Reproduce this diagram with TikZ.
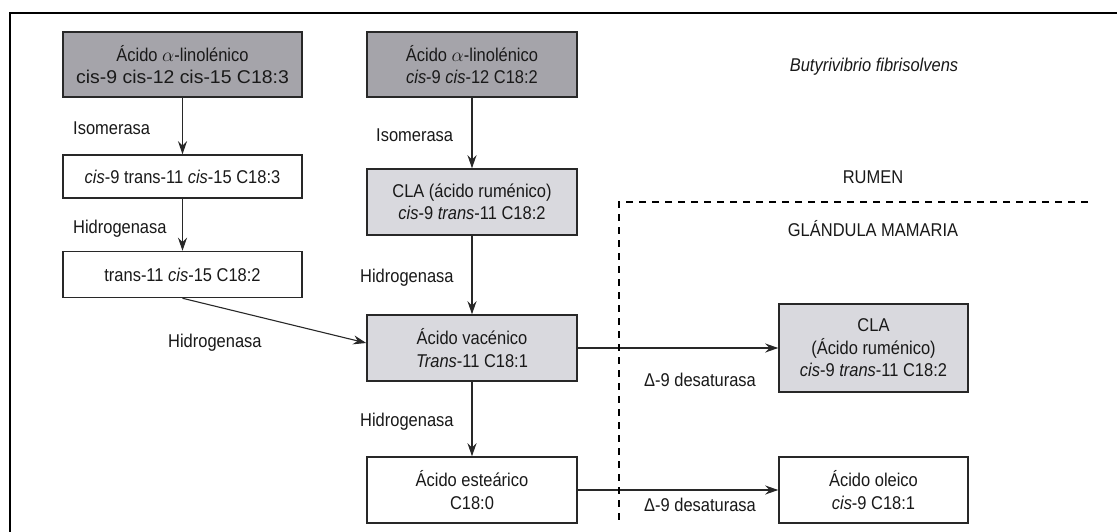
\documentclass[tikz,border=0pt]{standalone}
\usepackage{fontspec}
\setmainfont{Liberation Sans}[FakeStretch=0.89]
\usetikzlibrary{arrows.meta,calc}
\definecolor{boxdark}{RGB}{165,164,170}
\definecolor{boxlight}{RGB}{217,217,222}
\definecolor{inkline}{RGB}{40,40,40}
\definecolor{inktext}{RGB}{25,25,25}
\newcommand{\alphasym}{\scalebox{1.12}{$\alpha$}}
\tikzset{
  txt/.style={font=\fontsize{18.5}{22.5}\selectfont, text=inktext},
  box/.style={txt, draw=inkline, line width=1.5pt, align=center, inner sep=0pt},
  darkbox/.style={box, fill=boxdark},
  lightbox/.style={box, fill=boxlight},
  whitebox/.style={box, fill=white},
  lbl/.style={txt, inner sep=0pt, anchor=base west},
  clbl/.style={txt, inner sep=0pt, anchor=base},
  conn/.style={draw=inkline, line width=1.1pt, -{Stealth[length=13pt,width=9pt]}},
  frameline/.style={draw=black, line width=2.4pt},
  zoneline/.style={draw=black, line width=2.2pt, dash pattern=on 7pt off 6pt}
}
\begin{document}
\begin{tikzpicture}[x=1pt,y=-1pt]
\useasboundingbox (0,0) rectangle (1117,531);
\fill[white] (0,0) rectangle (1117,531);

% outer frame (cropped at right and bottom)
\coordinate (fbl) at (10,535);
\coordinate (ftl) at (10,13);
\coordinate (ftr) at (1120,13);
\draw[frameline] (fbl) -- (ftl) -- (ftr);

% boxes
\node[darkbox, minimum width=239pt, minimum height=65pt] (A1) at (182.5,64.5)
  {Ácido \alphasym-linolénico\\\scalebox{1.18}[1]{cis-9 cis-12 cis-15 C18:3}};
\node[darkbox, minimum width=210pt, minimum height=65pt] (A2) at (472,64.5)
  {Ácido \alphasym-linolénico\\\textit{cis}-9 \textit{cis}-12 C18:2};
\node[whitebox, minimum width=239pt, minimum height=43pt] (B1) at (182.5,176.5)
  {\textit{cis}-9 trans-11 \textit{cis}-15 C18:3};
\node[lightbox, minimum width=210pt, minimum height=66pt] (B2) at (472,202)
  {CLA (ácido ruménico)\\\textit{cis}-9 \textit{trans}-11 C18:2};
\node[whitebox, minimum width=239pt, minimum height=46pt] (C1) at (182.5,274.5)
  {trans-11 \textit{cis}-15 C18:2};
\node[lightbox, minimum width=210pt, minimum height=66pt] (D) at (472,348)
  {Ácido vacénico\\\textit{Trans}-11 C18:1};
\node[whitebox, minimum width=210pt, minimum height=66pt] (E) at (472,490)
  {Ácido esteárico\\C18:0};
\node[lightbox, minimum width=189pt, minimum height=88pt] (F) at (873.5,348)
  {CLA\\(Ácido ruménico)\\\textit{cis}-9 \textit{trans}-11 C18:2};
\node[whitebox, minimum width=189pt, minimum height=66pt] (G) at (873.5,490)
  {Ácido oleico\\\textit{cis}-9 C18:1};

% connectors
\draw[conn] (A1) -- (B1);
\draw[conn] (B1) -- (C1);
\draw[conn] (A2) -- (B2);
\draw[conn] (B2) -- (D);
\draw[conn] (D) -- (E);
\draw[conn] (D.east) -- (F.west);
\draw[conn] (E.east) -- (G.west);
\draw[conn] (C1.south) -- ([yshift=5pt]D.west);

% zone boundary
\coordinate (zr) at (1088,202);
\coordinate (zc) at (619,202);
\coordinate (zb) at (619,526);
\draw[zoneline] (zr) -- (zc) -- (zb);

% labels
\node[lbl] (l1) at (73,134) {Isomerasa};
\node[lbl] (l2) at (73,233) {Hidrogenasa};
\node[lbl] (l3) at (376,141) {Isomerasa};
\node[lbl] (l4) at (360,282) {Hidrogenasa};
\node[lbl] (l5) at (168,347) {Hidrogenasa};
\node[lbl] (l6) at (360,426) {Hidrogenasa};
\node[lbl] (l7) at (644,386) {Δ-9 desaturasa};
\node[lbl] (l8) at (644,511) {Δ-9 desaturasa};
\node[clbl] (l9) at (874,71) {\textit{Butyrivibrio fibrisolvens}};
\node[clbl] (l10) at (873,183) {RUMEN};
\node[clbl] (l11) at (873,236) {GLÁNDULA MAMARIA};
\end{tikzpicture}
\end{document}
